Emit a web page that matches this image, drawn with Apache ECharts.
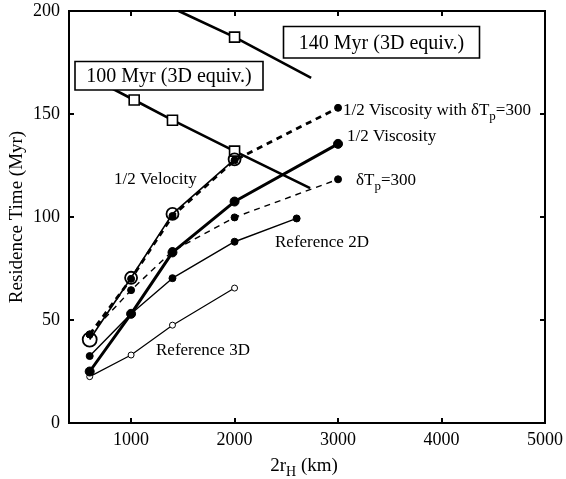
<!DOCTYPE html>
<html>
<head>
<meta charset="utf-8">
<script src="https://cdn.jsdelivr.net/npm/echarts@6/dist/echarts.min.js"></script>
<style>
html,body{margin:0;padding:0;background:#fff;}
#chart{width:566px;height:479px;}
</style>
</head>
<body>
<div id="chart"></div>
<script>
// ---- data ----
const xTicks = [1000, 2000, 3000, 4000, 5000];
const yTicks = [0, 50, 100, 150, 200];

const ref3dX = [600, 1000, 1400, 2000];
const ref3dY = [22.5, 33, 47.5, 65.5];

const ref2dX = [600, 1000, 1400, 2000, 2600];
const ref2dY = [32.5, 53, 70.3, 88, 99.3];

const halfViscX = [600, 1000, 1400, 2000, 3000];
const halfViscY = [25, 53, 82.8, 107.5, 135.5];

const dTpX = [600, 1000, 1400, 2000, 3000];
const dTpY = [43, 64.5, 83.5, 99.8, 118.3];

const halfViscDTpX = [600, 1000, 1400, 2000, 3000];
const halfViscDTpY = [43, 70, 100.5, 127.5, 153];

const halfVelX = [600, 1000, 1400, 2000];
const halfVelY = [40.5, 70.5, 101.5, 128];

const myr100X = [600, 1030, 1400, 2000, 2730];
const myr100Y = [168, 156.8, 147, 132, 114];

const myr140X = [1460, 2000, 2740];
const myr140Y = [200, 187.3, 167.5];

function pairs(xs, ys) { return xs.map((x, i) => [x, ys[i]]); }

const FONT = '"Liberation Serif", "DejaVu Serif", serif';
const chart = echarts.init(document.getElementById('chart'), null, {renderer: 'canvas'});

function lineSeries(name, xs, ys, o) {
  return Object.assign({
    name: name,
    type: 'line',
    data: pairs(xs, ys),
    symbol: 'circle',
    symbolSize: 6,
    showSymbol: true,
    animation: false,
    lineStyle: {color: '#000', width: 1.3, type: 'solid'},
    itemStyle: {color: '#000', borderColor: '#000', borderWidth: 1},
    emphasis: {disabled: true},
    clip: true
  }, o);
}

const option = {
  backgroundColor: '#fff',
  animation: false,
  grid: {left: 69, right: 19, top: 11, bottom: 56, show: true, borderColor: '#000', borderWidth: 2, backgroundColor: 'transparent'},
  xAxis: [{
    type: 'value', min: 400, max: 5000, position: 'bottom',
    axisLine: {show: true, onZero: false, lineStyle: {color: '#000', width: 2}},
    axisTick: {show: true, inside: true, length: 5, lineStyle: {color: '#000', width: 2}, customValues: xTicks.slice(0, 4)},
    axisLabel: {show: true, margin: 8, color: '#000', fontFamily: FONT, fontSize: 18, customValues: xTicks,
      formatter: v => String(v)},
    splitLine: {show: false}
  }, {
    type: 'value', min: 400, max: 5000, position: 'top',
    axisLine: {show: true, onZero: false, lineStyle: {color: '#000', width: 2}},
    axisTick: {show: true, inside: true, length: 5, lineStyle: {color: '#000', width: 2}, customValues: xTicks.slice(0, 4)},
    axisLabel: {show: false},
    splitLine: {show: false}
  }],
  yAxis: [{
    type: 'value', min: 0, max: 200, interval: 50, position: 'left',
    axisLine: {show: true, onZero: false, lineStyle: {color: '#000', width: 2}},
    axisTick: {show: true, inside: true, length: 5, lineStyle: {color: '#000', width: 2}},
    axisLabel: {show: true, margin: 9, color: '#000', fontFamily: FONT, fontSize: 18, customValues: yTicks,
      formatter: v => String(v)},
    splitLine: {show: false}
  }, {
    type: 'value', min: 0, max: 200, interval: 50, position: 'right',
    axisLine: {show: true, onZero: false, lineStyle: {color: '#000', width: 2}},
    axisTick: {show: true, inside: true, length: 5, lineStyle: {color: '#000', width: 2}},
    axisLabel: {show: false},
    splitLine: {show: false}
  }],
  series: [
    lineSeries('100 Myr (3D equiv.)', myr100X, myr100Y, {
      symbol: 'rect',
      symbolSize: (v, p) => p.dataIndex === 0 || p.dataIndex === myr100X.length - 1 ? 0 : 10,
      lineStyle: {color: '#000', width: 2.6},
      itemStyle: {color: '#fff', borderColor: '#000', borderWidth: 1.6},
      z: 3
    }),
    lineSeries('140 Myr (3D equiv.)', myr140X, myr140Y, {
      symbol: 'rect',
      symbolSize: (v, p) => p.dataIndex === 1 ? 10 : 0,
      lineStyle: {color: '#000', width: 2.6},
      itemStyle: {color: '#fff', borderColor: '#000', borderWidth: 1.6},
      z: 3
    }),
    lineSeries('Reference 3D', ref3dX, ref3dY, {
      symbol: 'circle', symbolSize: 6,
      lineStyle: {color: '#000', width: 1.2},
      itemStyle: {color: '#fff', borderColor: '#000', borderWidth: 1}
    }),
    lineSeries('Reference 2D', ref2dX, ref2dY, {
      symbolSize: 7,
      lineStyle: {color: '#000', width: 1.4}
    }),
    lineSeries('δTp=300', dTpX, dTpY, {
      symbolSize: 7,
      lineStyle: {color: '#000', width: 1.4, type: [6, 5]}
    }),
    lineSeries('1/2 Viscosity', halfViscX, halfViscY, {
      symbolSize: 9,
      lineStyle: {color: '#000', width: 3}
    }),
    lineSeries('1/2 Velocity', halfVelX, halfVelY, {
      symbol: 'circle', symbolSize: (v, p) => p.dataIndex === 0 ? 14 : 12,
      lineStyle: {color: '#000', width: 1.6},
      itemStyle: {color: 'rgba(255,255,255,0)', borderColor: '#000', borderWidth: 1.8}
    }),
    lineSeries('1/2 Viscosity with δTp=300', halfViscDTpX, halfViscDTpY, {
      symbolSize: 7,
      lineStyle: {color: '#000', width: 2.8, type: [6, 5]}
    })
  ]
};
chart.setOption(option);

const sub = {
  a: {fontFamily: FONT, fontSize: 17, color: '#000', lineHeight: 24, verticalAlign: 'middle'},
  s: {fontFamily: FONT, fontSize: 13, color: '#000', lineHeight: 24, verticalAlign: 'bottom'}
};
function txt(x, y, text, extra) {
  return {
    type: 'text', x: x, y: y, z: 100,
    style: Object.assign({text: text, fill: '#000', font: '17px ' + FONT, align: 'left', verticalAlign: 'middle'}, extra || {})
  };
}
function box(x, y, w, h, text) {
  return {
    type: 'group', z: 100,
    children: [
      {type: 'rect', shape: {x: x, y: y, width: w, height: h}, style: {fill: '#fff', stroke: '#000', lineWidth: 1.6}, z: 100},
      {type: 'text', x: x + w / 2, y: y + h / 2 + 1, z: 101, style: {text: text, fill: '#000', font: '20px ' + FONT, align: 'center', verticalAlign: 'middle'}}
    ]
  };
}

chart.setOption({
  graphic: [
    box(283.5, 26.5, 196, 31.5, '140 Myr (3D equiv.)'),
    box(75, 61.5, 188, 28.5, '100 Myr (3D equiv.)'),
    txt(114, 180, '1/2 Velocity'),
    txt(156, 351, 'Reference 3D'),
    txt(275, 243, 'Reference 2D'),
    txt(343, 111, '{a|1/2 Viscosity with δT}{s|p}{a|=300}', {rich: sub}),
    txt(347, 137, '1/2 Viscosity'),
    txt(356, 181, '{a|δT}{s|p}{a|=300}', {rich: sub}),
    {type: 'text', x: 17, y: 217, rotation: Math.PI / 2, z: 100,
      style: {text: 'Residence Time (Myr)', fill: '#000', font: '19px ' + FONT, align: 'center', verticalAlign: 'middle'}},
    {type: 'text', x: 304, y: 466, z: 100,
      style: {text: '{a|2r}{s|H}{a| (km)}', align: 'center', verticalAlign: 'middle',
        rich: {a: {fontFamily: FONT, fontSize: 19, color: '#000', lineHeight: 24, verticalAlign: 'middle'},
               s: {fontFamily: FONT, fontSize: 14, color: '#000', lineHeight: 26, verticalAlign: 'bottom'}}}}
  ]
});
</script>
</body>
</html>
